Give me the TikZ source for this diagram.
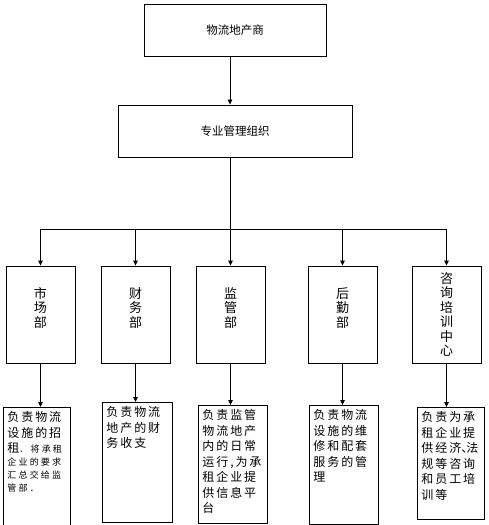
\documentclass[tikz,border=0pt]{standalone}
\usepackage{fontspec}
\setmainfont{Noto Sans CJK SC}
\newfontfamily\desccjk[LetterSpace=16]{Noto Sans CJK SC}
\newfontfamily\notecjk[LetterSpace=24]{Noto Sans CJK SC}
\usepackage{tikz}
\usetikzlibrary{arrows.meta,positioning}
% duty text, top aligned in a box of fixed size
\newcommand{\dutytext}[3]{\parbox[t][#2][t]{#1}{\raggedright\desccjk\fontsize{12pt}{15.5pt}\selectfont #3}}
\newcommand{\dutynote}[1]{{\notecjk\fontsize{9pt}{13pt}\selectfont #1}}
\tikzset{
  orgbox/.style={draw, line width=0.9pt, minimum height=52pt, inner sep=0pt,
                 font=\fontsize{11.5pt}{14pt}\selectfont},
  deptbox/.style={draw, line width=0.9pt, minimum width=69pt, minimum height=97pt,
                  inner sep=0pt, align=center, font=\fontsize{13pt}{14.5pt}\selectfont},
  dutybox/.style={draw, line width=0.9pt, inner sep=4pt, anchor=north west},
  orgline/.style={line width=0.8pt},
  orgarr/.style={-{Triangle[length=5pt,width=4.5pt]}, line width=0.8pt}
}
\begin{document}
\begin{tikzpicture}[x=1pt, y=-1pt]
\useasboundingbox (0,0) rectangle (489,525);
\node[orgbox, minimum width=182pt] (dev) at (235,30) {物流地产商};
\node[orgbox, minimum width=234pt] (org) at (235,131) {专业管理组织};
\coordinate (trunk) at (230,229);

% departments
\node[deptbox] (market) at (40.5,314.5) {市\\场\\部\\\mbox{}};
\node[deptbox] (finance) at (135.5,314.5) {财\\务\\部\\\mbox{}};
\node[deptbox] (supervise) at (230.5,314.5) {监\\管\\部\\\mbox{}};
\node[deptbox] (logistics) at (342.5,314.5) {后\\勤\\部\\\mbox{}};
\node[deptbox] (consult) at (446.5,314.5) {咨\\询\\培\\训\\中\\心};

% duties
\node[dutybox] (marketduty) at (3,407) {\dutytext{59pt}{112pt}{负责物流\\设施的招\\租\dutynote{．将承租}\\[-2.5pt]
  \dutynote{企业的要求}\\[-2.5pt]\dutynote{汇总交给监}\\[-2.5pt]\dutynote{管部．}}};
\node[dutybox] (financeduty) at (102,402) {\dutytext{62pt}{112pt}{负责物流\\地产的财\\务收支}};
\node[dutybox] (superviseduty) at (198,405) {\dutytext{61pt}{110pt}{负责监管\\物流地产\\内的日常\\运行,为承\\租企业提\\供信息平\\台}};
\node[dutybox] (logisticsduty) at (309,405) {\dutytext{61pt}{111pt}{负责物流\\设施的维\\修和配套\\服务的管\\理}};
\node[dutybox] (consultduty) at (417,407) {\dutytext{59pt}{104pt}{负责为承\\租企业提\\供经济\makebox[5pt][l]{、}法\\规等咨询\\和员工培\\训等}};

% connectors
\draw[orgarr] (dev.south -| trunk) -- (org.north -| trunk);
\draw[orgline] (org.south -| trunk) -- (trunk);
\draw[orgline] (market.north |- trunk) -- (consult.north |- trunk);
\foreach \d in {market,finance,supervise,logistics,consult}
  \draw[orgarr] (\d.north |- trunk) -- (\d.north);
\foreach \d in {market,finance,supervise,logistics,consult}
  \draw[orgarr] (\d.south) -- (\d.south |- \d duty.north);
\end{tikzpicture}
\end{document}
